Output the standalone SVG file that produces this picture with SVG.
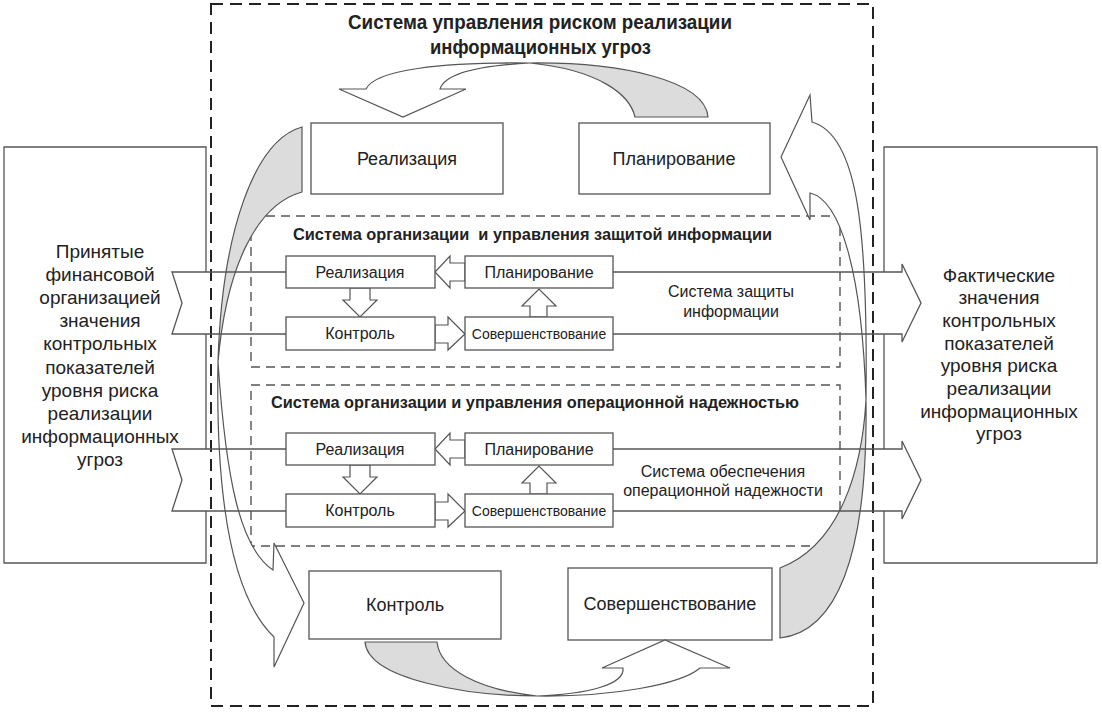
<svg xmlns="http://www.w3.org/2000/svg" width="1102" height="712" viewBox="0 0 1102 712">
<style>
text{font-family:"Liberation Sans",Arial,sans-serif;fill:#222}
.box{fill:#fff;stroke:#555;stroke-width:1.3}
.ln{fill:none;stroke:#555;stroke-width:1.3}
.arr{fill:#fff;stroke:#555;stroke-width:1.2;stroke-linejoin:miter}
.grey{fill:#dcdcdc;stroke:#555;stroke-width:1.2}
.dout{fill:none;stroke:#222;stroke-width:2;stroke-dasharray:12 7}
.din{fill:none;stroke:#555;stroke-width:1.4;stroke-dasharray:9 6}
.big{font-size:18px;text-anchor:middle}
.sm{font-size:16px;text-anchor:middle}
.xs{font-size:14px;text-anchor:middle}
.side{font-size:19px;text-anchor:middle}
.ttl{font-weight:bold}
</style>
<rect class="dout" x="211" y="4" width="662" height="702"/>
<g id="title">
<text class="ttl" x="348" y="29" font-size="21" textLength="384" lengthAdjust="spacingAndGlyphs">Система управления риском реализации</text>
<text class="ttl" x="430" y="54" font-size="21" textLength="221" lengthAdjust="spacingAndGlyphs">информационных угроз</text>
</g>
<g id="input">
<path class="box" d="M206,272 V147 H4 V563 H206 V511 M206,449 V334"/>
<text class="side" x="100"><tspan x="100" y="257.5">Принятые</tspan><tspan x="100" dy="23.2">финансовой</tspan><tspan x="100" dy="23.2">организацией</tspan><tspan x="100" dy="23.2">значения</tspan><tspan x="100" dy="23.2">контрольных</tspan><tspan x="100" dy="23.2">показателей</tspan><tspan x="100" dy="23.2">уровня риска</tspan><tspan x="100" dy="23.2">реализации</tspan><tspan x="100" dy="23.2">информационных</tspan><tspan x="100" dy="23.2">угроз</tspan></text>
</g>
<g id="output">
<path class="box" d="M884,272 V147 H1097 V563 H884 V511 M884,449 V334"/>
<text class="side" x="999"><tspan x="999" y="281.5">Фактические</tspan><tspan x="999" dy="22.7">значения</tspan><tspan x="999" dy="22.7">контрольных</tspan><tspan x="999" dy="22.7">показателей</tspan><tspan x="999" dy="22.7">уровня риска</tspan><tspan x="999" dy="22.7">реализации</tspan><tspan x="999" dy="22.7">информационных</tspan><tspan x="999" dy="22.7">угроз</tspan></text>
</g>
<g id="sys-infosec">
<rect class="din" x="251" y="216" width="589" height="151"/>
<text class="ttl" x="293" y="240" font-size="16" textLength="479" lengthAdjust="spacingAndGlyphs" style="white-space:pre">Система организации  и управления защитой информации</text>
</g>
<g id="sys-oprel">
<rect class="din" x="251" y="385" width="589" height="161"/>
<text class="ttl" x="271" y="408" font-size="16" textLength="528" lengthAdjust="spacingAndGlyphs">Система организации и управления операционной надежностью</text>
</g>
<g id="n-real"><rect class="box" x="311" y="123" width="192" height="71"/><text class="big" x="407" y="165">Реализация</text></g>
<g id="n-plan"><rect class="box" x="579" y="123" width="191" height="71"/><text class="big" x="674" y="165">Планирование</text></g>
<g id="n-ctrl"><rect class="box" x="309" y="571" width="192" height="68"/><text class="big" x="405" y="611">Контроль</text></g>
<g id="n-impr"><rect class="box" x="568" y="568" width="204" height="72"/><text class="big" x="670" y="610">Совершенствование</text></g>
<g id="cycle-arrows">
<path class="arr" d="M530,63 C440,62 375,70 366,89 L339,89 L403,117 L466,89 L440,89 C444,76 470,66 530,63 Z"/>
<path class="grey" d="M530,63 C620,62 705,80 708,117 L635,117 C630,95 600,70 530,63 Z"/>
<path class="grey" d="M365,642 C368,680 470,696 537,696 C480,690 440,670 437,642 Z"/>
<path class="arr" d="M537,696 C610,697 680,685 700,668 L730,668 L665,640 L602,668 L623,668 C625,684 590,694 537,696 Z"/>
<path class="grey" d="M302,127 C255,140 222,230 218,362 C226,270 255,205 302,192 Z"/>
<path class="arr" d="M218,362 C216,470 225,590 274,637 L274,667 L304,603 L274,543 L273,570 C240,548 226,480 218,362 Z"/>
<path class="grey" d="M780,638 C835,632 868,560 866,400 C862,470 840,545 780,568 Z"/>
<path class="arr" d="M866,400 C868,230 858,135 812,122 L810,95 L781,157 L810,220 L810,193 C840,200 862,270 866,400 Z"/>
</g>
<g id="connectors">
<path class="ln" d="M286,272 H172 L182,303 L172,334 H286"/>
<path class="ln" d="M613,272 H902 V264 L921,303 L902,342 V334 H613"/>
<path class="ln" d="M286,449 H172 L182,480 L172,511 H286"/>
<path class="ln" d="M613,449 H902 V441 L921,480 L902,519 V511 H613"/>
<path class="arr" d="M465,263 H450 V256 L435,272 L450,288 V281 H465 Z"/>
<path class="arr" d="M350,288 H370 V300 H377 L360,317 L343,300 H350 Z"/>
<path class="arr" d="M435,325 H448 V317 L465,334 L448,350 V343 H435 Z"/>
<path class="arr" d="M530,317 V306 H522 L539,289 L556,306 H547 V317 Z"/>
<g transform="translate(0,177)">
<path class="arr" d="M465,263 H450 V256 L435,272 L450,288 V281 H465 Z"/>
<path class="arr" d="M350,288 H370 V300 H377 L360,317 L343,300 H350 Z"/>
<path class="arr" d="M435,325 H448 V317 L465,334 L448,350 V343 H435 Z"/>
<path class="arr" d="M530,317 V306 H522 L539,289 L556,306 H547 V317 Z"/>
</g>
</g>
<g id="s1-real"><rect class="box" x="286" y="256" width="149" height="32"/><text class="sm" x="360" y="278">Реализация</text></g>
<g id="s1-plan"><rect class="box" x="465" y="256" width="148" height="32"/><text class="sm" x="539" y="278">Планирование</text></g>
<g id="s1-ctrl"><rect class="box" x="286" y="317" width="149" height="33"/><text class="sm" x="360" y="339">Контроль</text></g>
<g id="s1-impr"><rect class="box" x="465" y="317" width="148" height="33"/><text class="xs" x="539" y="339">Совершенствование</text></g>
<g id="s2-real"><rect class="box" x="286" y="433" width="149" height="32"/><text class="sm" x="360" y="455">Реализация</text></g>
<g id="s2-plan"><rect class="box" x="465" y="433" width="148" height="32"/><text class="sm" x="539" y="455">Планирование</text></g>
<g id="s2-ctrl"><rect class="box" x="286" y="494" width="149" height="33"/><text class="sm" x="360" y="516">Контроль</text></g>
<g id="s2-impr"><rect class="box" x="465" y="494" width="148" height="33"/><text class="xs" x="539" y="516">Совершенствование</text></g>
<g id="labels">
<text class="sm" x="731" y="297">Система защиты</text>
<text class="sm" x="731" y="317">информации</text>
<text class="sm" x="723" y="477">Система обеспечения</text>
<text class="sm" x="723" y="496">операционной надежности</text>
</g>
</svg>
